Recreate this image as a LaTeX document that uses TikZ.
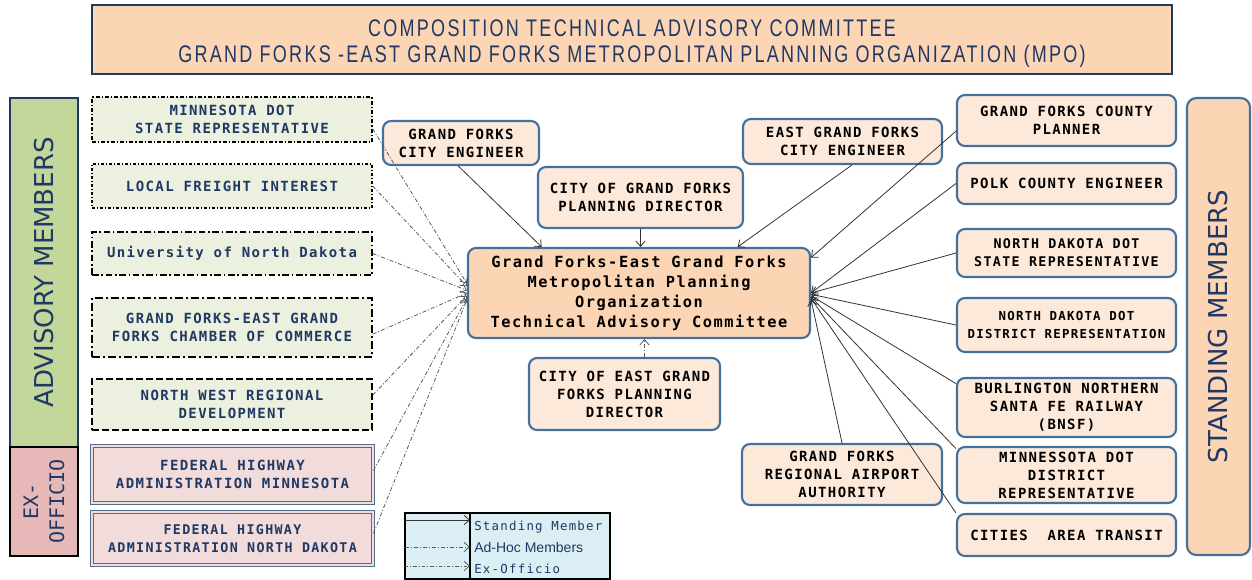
\documentclass[tikz,border=0pt]{standalone}
\usepackage{fontspec}
\usetikzlibrary{arrows.meta}
\newfontfamily\boxfont[LetterSpace=10]{DejaVu Sans Mono}
\newfontfamily\exofont{DejaVu Sans Mono}
\newfontfamily\bannerfont{DejaVu Sans}
\newfontfamily\titlefont[FakeStretch=0.75,LetterSpace=9.5]{Liberation Sans}
\newfontfamily\legfont{Liberation Sans}
\definecolor{navy}{RGB}{31,56,100}
\definecolor{peach}{RGB}{252,213,180}
\definecolor{standfill}{RGB}{253,233,217}
\definecolor{standline}{RGB}{65,113,156}
\definecolor{adfill}{RGB}{235,241,222}
\definecolor{advgreen}{RGB}{196,215,155}
\definecolor{exopink}{RGB}{230,184,183}
\definecolor{exfill}{RGB}{242,220,219}
\definecolor{exline}{RGB}{79,109,143}
\definecolor{legfill}{RGB}{218,238,243}
\begin{document}
\begin{tikzpicture}[x=0.75pt,y=-0.75pt,
  wh/.style 2 args={minimum width=#1*0.75pt,minimum height=#2*0.75pt},
  base/.style={inner sep=0pt,align=center,font=\boxfont\bfseries\fontsize{10.5}{13.5}\selectfont},
  stand/.style={base,draw=standline,fill=standfill,line width=1.6pt,rounded corners=6pt},
  adhoc/.style={base,draw=black,fill=adfill,line width=1.1pt,text=navy},
  exo/.style={base,draw=exline,fill=exfill,double=exfill,double distance=1.6pt,line width=0.7pt,text=navy},
  sarrow/.style={-{Straight Barb[length=4pt,width=7pt]},line width=0.6pt,draw=black!80},
  darrow/.style={sarrow,draw=black!65,dash pattern=on 3pt off 1.5pt on 0.8pt off 1.5pt}]
\useasboundingbox (0,0) rectangle (1252,579);

% Title
\node[wh={1080}{69},draw=navy,line width=1.2pt,fill=peach] (title) at (632,39.5) {};
\node[text=navy,align=center,inner sep=0pt,font=\titlefont\fontsize{18}{19.5}\selectfont] (titletext) at (632,44)
  {COMPOSITION TECHNICAL ADVISORY COMMITTEE\\
   GRAND FORKS -EAST GRAND FORKS METROPOLITAN PLANNING ORGANIZATION (MPO)};

% Side banners
\node[wh={349}{68},rotate=90,draw=navy,line width=1.5pt,fill=advgreen,text=navy,
  font=\bannerfont\fontsize{19.5}{22}\selectfont] (advb) at (44,272.5) {ADVISORY MEMBERS};
\node[wh={109}{68},rotate=90,draw=black,line width=2.2pt,fill=exopink,text=navy,align=center,
  font=\exofont\fontsize{15}{19.5}\selectfont] (exob) at (44,501.5) {EX-\\OFFICIO};
\node[wh={457}{63},rotate=90,draw=standline,line width=1.6pt,fill=peach,text=navy,rounded corners=7pt,
  font=\bannerfont\fontsize{19.5}{22}\selectfont] (stb) at (1218.5,326.5) {STANDING MEMBERS};

% Advisory and ex-officio members
\node[adhoc,wh={280}{45},dash pattern=on 3pt off 1.5pt on 1pt off 1.5pt] (mndots) at (232,119.5)
  {MINNESOTA DOT\\STATE REPRESENTATIVE};
\node[adhoc,wh={280}{44},dash pattern=on 2pt off 1.5pt on 1pt off 1.5pt] (freight) at (232,186)
  {LOCAL FREIGHT INTEREST};
\node[adhoc,wh={280}{43},dash pattern=on 5pt off 2pt on 1.2pt off 2pt] (und) at (232,253.5)
  {University of North Dakota};
\node[adhoc,wh={280}{59},dash pattern=on 6pt off 2.5pt on 1pt off 2.5pt] (chamber) at (232,327.5)
  {GRAND FORKS-EAST GRAND\\FORKS CHAMBER OF COMMERCE};
\node[adhoc,wh={280}{51},dash pattern=on 5pt off 2.5pt] (nwrd) at (232,404.5)
  {NORTH WEST REGIONAL\\DEVELOPMENT};
\node[exo,wh={281}{57}] (fhwamn) at (232.5,474.5) {FEDERAL HIGHWAY\\ADMINISTRATION MINNESOTA};
\node[exo,wh={281}{53},font=\boxfont\bfseries\fontsize{10}{13.5}\selectfont] (fhwand) at (232.5,538.5)
  {FEDERAL HIGHWAY\\ADMINISTRATION NORTH DAKOTA};

% Committee
\node[stand,wh={342}{90},fill=peach,font=\boxfont\bfseries\fontsize{11.5}{15}\selectfont] (tac) at (639,293)
  {Grand Forks-East Grand Forks\\Metropolitan Planning\\Organization\\Technical Advisory Committee};

% Standing members round the committee
\node[stand,wh={156}{44}] (gfce) at (461,143) {GRAND FORKS\\CITY ENGINEER};
\node[stand,wh={205}{61}] (cgfpd) at (640.5,197.5) {CITY OF GRAND FORKS\\PLANNING DIRECTOR};
\node[stand,wh={199}{45}] (egfce) at (842.5,141.5) {EAST GRAND FORKS\\CITY ENGINEER};
\node[stand,wh={191}{72}] (cegfpd) at (624.5,394) {CITY OF EAST GRAND\\FORKS PLANNING\\DIRECTOR};
\node[stand,wh={200}{61}] (gfra) at (842,474.5) {GRAND FORKS\\REGIONAL AIRPORT\\AUTHORITY};
\node[stand,wh={219}{51}] (gfcp) at (1066.5,120.5) {GRAND FORKS COUNTY\\PLANNER};
\node[stand,wh={219}{41}] (polk) at (1066.5,183.5) {POLK COUNTY ENGINEER};
\node[stand,wh={219}{48},font=\boxfont\bfseries\fontsize{10}{13.5}\selectfont] (nddots) at (1066.5,253)
  {NORTH DAKOTA DOT\\STATE REPRESENTATIVE};
\node[stand,wh={219}{54},font=\boxfont\bfseries\fontsize{9.3}{13.5}\selectfont] (nddotd) at (1066.5,325)
  {NORTH DAKOTA DOT\\DISTRICT REPRESENTATION};
\node[stand,wh={219}{59}] (bnsf) at (1066.5,407.5) {BURLINGTON NORTHERN\\SANTA FE RAILWAY\\(BNSF)};
\node[stand,wh={219}{56}] (mndotd) at (1066.5,475) {MINNESSOTA DOT\\DISTRICT\\REPRESENTATIVE};
\node[stand,wh={219}{42}] (cat) at (1066.5,535) {CITIES\ \ AREA TRANSIT};

% Standing member arrows
\draw[sarrow] ([xshift=-2pt]gfce.south) -- ([xshift=-73pt]tac.north);
\draw[sarrow] (cgfpd.south) -- (cgfpd.south |- tac.north);
\draw[sarrow] ([xshift=7pt]egfce.south) -- ([xshift=74pt]tac.north);
\draw[sarrow] ([yshift=-8pt]gfcp.west) -- ([yshift=-8pt]tac.north east);
\draw[sarrow] (polk.west) -- (tac.east);
\draw[sarrow] (nddots.west) -- (tac.east);
\draw[sarrow] (nddotd.west) -- ([yshift=-1pt]tac.east);
\draw[sarrow] ([yshift=-5pt]bnsf.north west) -- ([yshift=-2pt]tac.east);
\draw[sarrow] ([yshift=-2pt]mndotd.north west) -- ([yshift=-3pt]tac.east);
\draw[sarrow] (cat.north west) -- ([yshift=-4pt]tac.east);
\draw[sarrow] (gfra.north) -- ([yshift=-5pt]tac.east);

% Ad-hoc and ex-officio arrows
\draw[darrow] ([yshift=-7pt]mndots.east) -- ([yshift=7pt]tac.west);
\draw[darrow] (freight.east) -- ([yshift=5pt]tac.west);
\draw[darrow] (und.east) -- ([yshift=2pt]tac.west);
\draw[darrow] ([yshift=-5pt]chamber.east) -- (tac.west);
\draw[darrow] ([yshift=7pt]nwrd.east) -- ([yshift=-2pt]tac.west);
\draw[darrow] ([yshift=3pt]fhwamn.east) -- ([yshift=-4pt]tac.west);
\draw[darrow] ([yshift=4pt]fhwand.east) -- ([yshift=-5pt]tac.west);
\coordinate (c1) at ([xshift=15pt]cegfpd.north);
\draw[darrow] (c1) -- (c1 |- tac.south);

% Legend
\node[draw=black,line width=1.3pt,fill=legfill,wh={205}{66},inner sep=0pt] (leg) at (507.5,546) {};
\draw[line width=1.3pt] (470,513) -- (470,579);
\coordinate (l1a) at (405,520); \coordinate (l1b) at (470,520);
\coordinate (l2a) at (405,547); \coordinate (l2b) at (470,547);
\coordinate (l3a) at (405,566); \coordinate (l3b) at (470,566);
\draw[sarrow] (l1a) -- (l1b);
\draw[darrow] (l2a) -- (l2b);
\draw[darrow,dash pattern=on 2.5pt off 1.5pt on 0.8pt off 1.5pt] (l3a) -- (l3b);
\node[anchor=west,inner sep=0pt,text=navy,font=\boxfont\fontsize{9.3}{11}\selectfont] (t1) at (474,527) {Standing Member};
\node[anchor=west,inner sep=0pt,text=navy,font=\legfont\fontsize{10.5}{12}\selectfont] (t2) at (474,547) {Ad-Hoc Members};
\node[anchor=west,inner sep=0pt,text=navy,font=\boxfont\fontsize{9.3}{11}\selectfont] (t3) at (474,569) {Ex-Officio};
\end{tikzpicture}
\end{document}
